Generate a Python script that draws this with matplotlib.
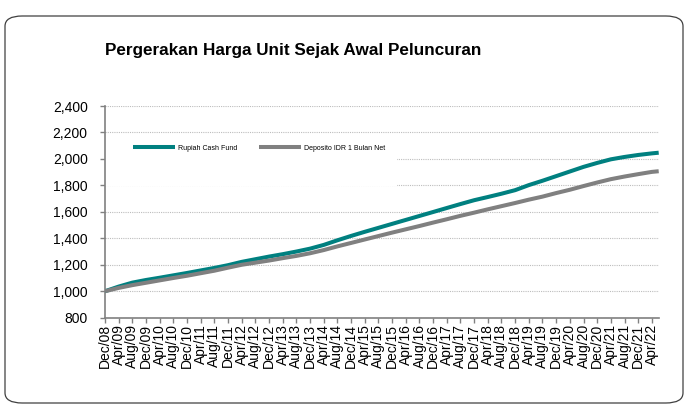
import matplotlib
matplotlib.use("Agg")
import matplotlib.pyplot as plt
import matplotlib.transforms as mtransforms
import pandas as pd
from matplotlib.patches import FancyBboxPatch, Rectangle

plt.rcParams['font.family'] = ['Liberation Sans', 'DejaVu Sans']

# ---------------- data ----------------
dates = ["2008-12", "2009-04", "2009-08", "2009-12", "2010-04", "2010-08", "2010-12",
         "2011-04", "2011-08", "2011-12", "2012-04", "2012-08", "2012-12", "2013-04",
         "2013-08", "2013-12", "2014-04", "2014-08", "2014-12", "2015-04", "2015-08",
         "2015-12", "2016-04", "2016-08", "2016-12", "2017-04", "2017-08", "2017-12",
         "2018-04", "2018-08", "2018-12", "2019-04", "2019-08", "2019-12", "2020-04",
         "2020-08", "2020-12", "2021-04", "2021-08", "2021-12", "2022-04", "2022-06"]

rupiah_cash_fund = [1000, 1035, 1065, 1085, 1102, 1120, 1138, 1157, 1176, 1197, 1222,
                    1242, 1262, 1280, 1300, 1322, 1350, 1385, 1418, 1449, 1479, 1509,
                    1539, 1569, 1599, 1629, 1659, 1688, 1712, 1737, 1764, 1802, 1835,
                    1870, 1905, 1940, 1970, 1997, 2015, 2030, 2042, 2047]

deposito_idr_1_bulan_net = [1000, 1025, 1046, 1064, 1082, 1100, 1117, 1136, 1155, 1178,
                            1200, 1216, 1232, 1250, 1267, 1287, 1311, 1339, 1365, 1391,
                            1417, 1443, 1468, 1493, 1519, 1544, 1570, 1594, 1619, 1643,
                            1667, 1692, 1715, 1742, 1767, 1795, 1822, 1847, 1867, 1885,
                            1902, 1907]

series_names = ["Rupiah Cash Fund", "Deposito IDR 1 Bulan Net"]

tick_dates = dates[:-1]
tick_labels = ["Dec/08", "Apr/09", "Aug/09", "Dec/09", "Apr/10", "Aug/10", "Dec/10",
               "Apr/11", "Aug/11", "Dec/11", "Apr/12", "Aug/12", "Dec/12", "Apr/13",
               "Aug/13", "Dec/13", "Apr/14", "Aug/14", "Dec/14", "Apr/15", "Aug/15",
               "Dec/15", "Apr/16", "Aug/16", "Dec/16", "Apr/17", "Aug/17", "Dec/17",
               "Apr/18", "Aug/18", "Dec/18", "Apr/19", "Aug/19", "Dec/19", "Apr/20",
               "Aug/20", "Dec/20", "Apr/21", "Aug/21", "Dec/21", "Apr/22"]

y_ticks = [800, 1000, 1200, 1400, 1600, 1800, 2000, 2200, 2400]
y_tick_labels = ["800", "1,000", "1,200", "1,400", "1,600", "1,800", "2,000", "2,200", "2,400"]

title = "Pergerakan Harga Unit Sejak Awal Peluncuran"

# ---------------- figure ----------------
W, H = 686, 407
fig = plt.figure(figsize=(W / 100, H / 100), dpi=100)
fig.patch.set_facecolor("white")

# rounded frame
frame = FancyBboxPatch((5 / W, 4 / H), 678 / W, 387 / H,
                       boxstyle="round,pad=0,rounding_size=0.025",
                       transform=fig.transFigure, facecolor="none",
                       edgecolor="#404040", linewidth=0.9, zorder=-1)
fig.patches.append(frame)

fig.text(105 / W, 1 - 50 / H, title, fontsize=12.3, fontweight="bold",
         va="center", ha="left", color="black")

left, right = 105 / W, 658.7 / W
bottom, top = 1 - 317.7 / H, 1 - 106 / H
ax = fig.add_axes([left, bottom, right - left, top - bottom])
ax.patch.set_alpha(0)

x = pd.to_datetime(dates)
xt = pd.to_datetime(tick_dates)

ax.plot(x, rupiah_cash_fund, color="#008080", lw=2.9, label=series_names[0],
        solid_joinstyle="round", solid_capstyle="butt", zorder=3)
ax.plot(x, deposito_idr_1_bulan_net, color="#808080", lw=2.9, label=series_names[1],
        solid_joinstyle="round", solid_capstyle="butt", zorder=4)

ax.set_xlim(x[0], x[-1])
ax.set_ylim(800, 2400)
ax.set_yticks(y_ticks)
ax.set_yticklabels(y_tick_labels, fontsize=10)
ax.set_xticks(xt)
ax.set_xticklabels(tick_labels, rotation=90, fontsize=10, ha="center", va="top")
offset = mtransforms.ScaledTranslation(2 / 100, 0, fig.dpi_scale_trans)
for lbl in ax.get_xticklabels():
    lbl.set_transform(lbl.get_transform() + offset)

ax.set_axisbelow(True)
ax.yaxis.grid(True, color="#bdbdbd", linestyle=(0, (1, 1)), linewidth=0.8)
ax.xaxis.grid(False)

for s in ["top", "right"]:
    ax.spines[s].set_visible(False)
for s in ["left", "bottom"]:
    ax.spines[s].set_color("#808080")
    ax.spines[s].set_linewidth(1.2)
ax.tick_params(axis="y", direction="out", length=3.5, width=1, color="#808080",
               pad=9, labelcolor="black")
ax.tick_params(axis="x", direction="out", length=3.5, width=1, color="#808080",
               pad=1, labelcolor="black")

# white area behind the legend hiding the gridlines
ax.add_patch(Rectangle((0.0, 0.62), 0.528, 0.2, transform=ax.transAxes,
                       facecolor="white", edgecolor="none", zorder=1))

leg = ax.legend(loc="center left", bbox_to_anchor=((133 - 105) / 553.7, 0.8),
                ncol=2, frameon=False, fontsize=5, handlelength=6.0,
                handletextpad=0.45, columnspacing=3.2, borderpad=0,
                borderaxespad=0)
for h in leg.get_lines():
    h.set_linewidth(2.9)

fig.savefig("out.png", dpi=100, facecolor="white")
